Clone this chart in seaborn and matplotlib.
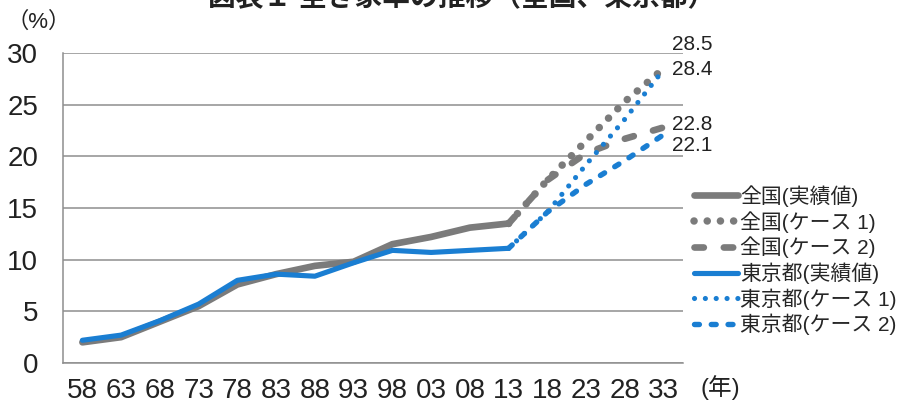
import pandas as pd
import matplotlib
matplotlib.use("Agg")
import matplotlib.pyplot as plt
import seaborn as sns

# data
YEARS = ["58", "63", "68", "73", "78", "83", "88", "93",
         "98", "03", "08", "13", "18", "23", "28", "33"]
ACTUAL_YEARS = YEARS[:12]
PROJ_YEARS = YEARS[11:]

NATIONAL_ACTUAL = [2.0, 2.5, 4.0, 5.5, 7.6, 8.6, 9.4, 9.8, 11.5, 12.2, 13.1, 13.5]
TOKYO_ACTUAL = [2.2, 2.7, 4.1, 5.7, 8.0, 8.6, 8.4, 9.7, 10.9, 10.7, 10.9, 11.1]
NATIONAL_CASE1 = [13.5, 17.7, 21.5, 25.3, 28.5]
NATIONAL_CASE2 = [13.5, 17.7, 20.3, 21.7, 22.8]
TOKYO_CASE1 = [11.1, 14.6, 19.2, 23.6, 28.4]
TOKYO_CASE2 = [11.1, 14.6, 17.3, 19.6, 22.1]

END_LABELS = ["28.5", "28.4", "22.8", "22.1"]
END_VALUES = [NATIONAL_CASE1[-1], TOKYO_CASE1[-1], NATIONAL_CASE2[-1], TOKYO_CASE2[-1]]

GRAY = "#7b7b7b"
BLUE = "#1a7ed2"
GRID = "#8e8e8e"

sns.set_style("white")
plt.rcParams["font.family"] = ["Liberation Sans", "Noto Sans CJK JP"]

fig = plt.figure(figsize=(9.05, 4.05), dpi=100)
ax = fig.add_axes([63 / 905, 1 - 363 / 405, 620 / 905, 310 / 405])

pos = {y: i for i, y in enumerate(YEARS)}

series = [
    ("全国(実績値)", ACTUAL_YEARS, NATIONAL_ACTUAL, GRAY, 4.8, "-"),
    ("全国(ケース 1)", PROJ_YEARS, NATIONAL_CASE1, GRAY, 5.4, (0, (0.01, 1.75))),
    ("全国(ケース 2)", PROJ_YEARS, NATIONAL_CASE2, GRAY, 4.8, (0, (1.4, 3.0))),
    ("東京都(実績値)", ACTUAL_YEARS, TOKYO_ACTUAL, BLUE, 3.7, "-"),
    ("東京都(ケース 1)", PROJ_YEARS, TOKYO_CASE1, BLUE, 3.7, (0, (0.01, 2.1))),
    ("東京都(ケース 2)", PROJ_YEARS, TOKYO_CASE2, BLUE, 3.9, (0, (0.9, 2.2))),
]

handles = []
for label, yrs, vals, color, lw, ls in series:
    df = pd.DataFrame({"x": [pos[y] for y in yrs], "value": vals})
    sns.lineplot(data=df, x="x", y="value", ax=ax, color=color, lw=lw,
                 linestyle=ls, dash_capstyle="round", solid_capstyle="round",
                 solid_joinstyle="round", label=label)
    handles.append(ax.lines[-1])

# end-point value labels
offsets = [17, 0, 2, -8]
for txt, val, dy in zip(END_LABELS, END_VALUES, offsets):
    ax.annotate(txt, xy=(len(YEARS) - 1, val), xytext=(6, dy),
                textcoords="offset points", va="center", ha="left",
                fontsize=15, color="#222222", annotation_clip=False)

ax.set_xlim(-0.5, len(YEARS) - 0.5)
ax.set_ylim(0, 30)
ax.set_yticks(range(0, 31, 5))
ax.set_xticks(range(len(YEARS)))
ax.set_xticklabels(YEARS)
ax.set_xticks([i - 0.5 for i in range(len(YEARS) + 1)], minor=True)
ax.tick_params(axis="x", which="major", length=0, pad=11, labelsize=20, labelcolor="#222222")
ax.tick_params(axis="x", which="minor", length=5, width=1.1, color=GRID, direction="out")
ax.tick_params(axis="y", length=6, width=1.1, color=GRID, direction="out", pad=12,
               labelsize=20, labelcolor="#222222")
ax.yaxis.grid(True, color=GRID, lw=1.1)
ax.set_xlabel("")
ax.set_ylabel("")
for side in ["top", "right"]:
    ax.spines[side].set_visible(False)
for side in ["left", "bottom"]:
    ax.spines[side].set_color(GRID)
    ax.spines[side].set_linewidth(1.1)
ax.set_axisbelow(True)

ax.legend(handles=handles, loc="upper left", bbox_to_anchor=(694 / 905, 1 - 185 / 405),
          bbox_transform=fig.transFigure, frameon=False, fontsize=15,
          handlelength=2.1, handletextpad=0.1, labelspacing=0.2,
          borderpad=0, borderaxespad=0)

fig.text(6 / 905, 1 - 22 / 405, "（%）", fontsize=16, va="center", ha="left", color="#222222")
fig.text(700 / 905, 1 - 388 / 405, "(年)", fontsize=17, va="center", ha="left", color="#222222")
fig.text(462 / 905, 1 - 5 / 405, "図表１ 空き家率の推移（全国、東京都）", fontsize=20,
         fontweight="bold", va="baseline", ha="center", color="#222222")

fig.savefig("out.png", dpi=100, facecolor="white")
